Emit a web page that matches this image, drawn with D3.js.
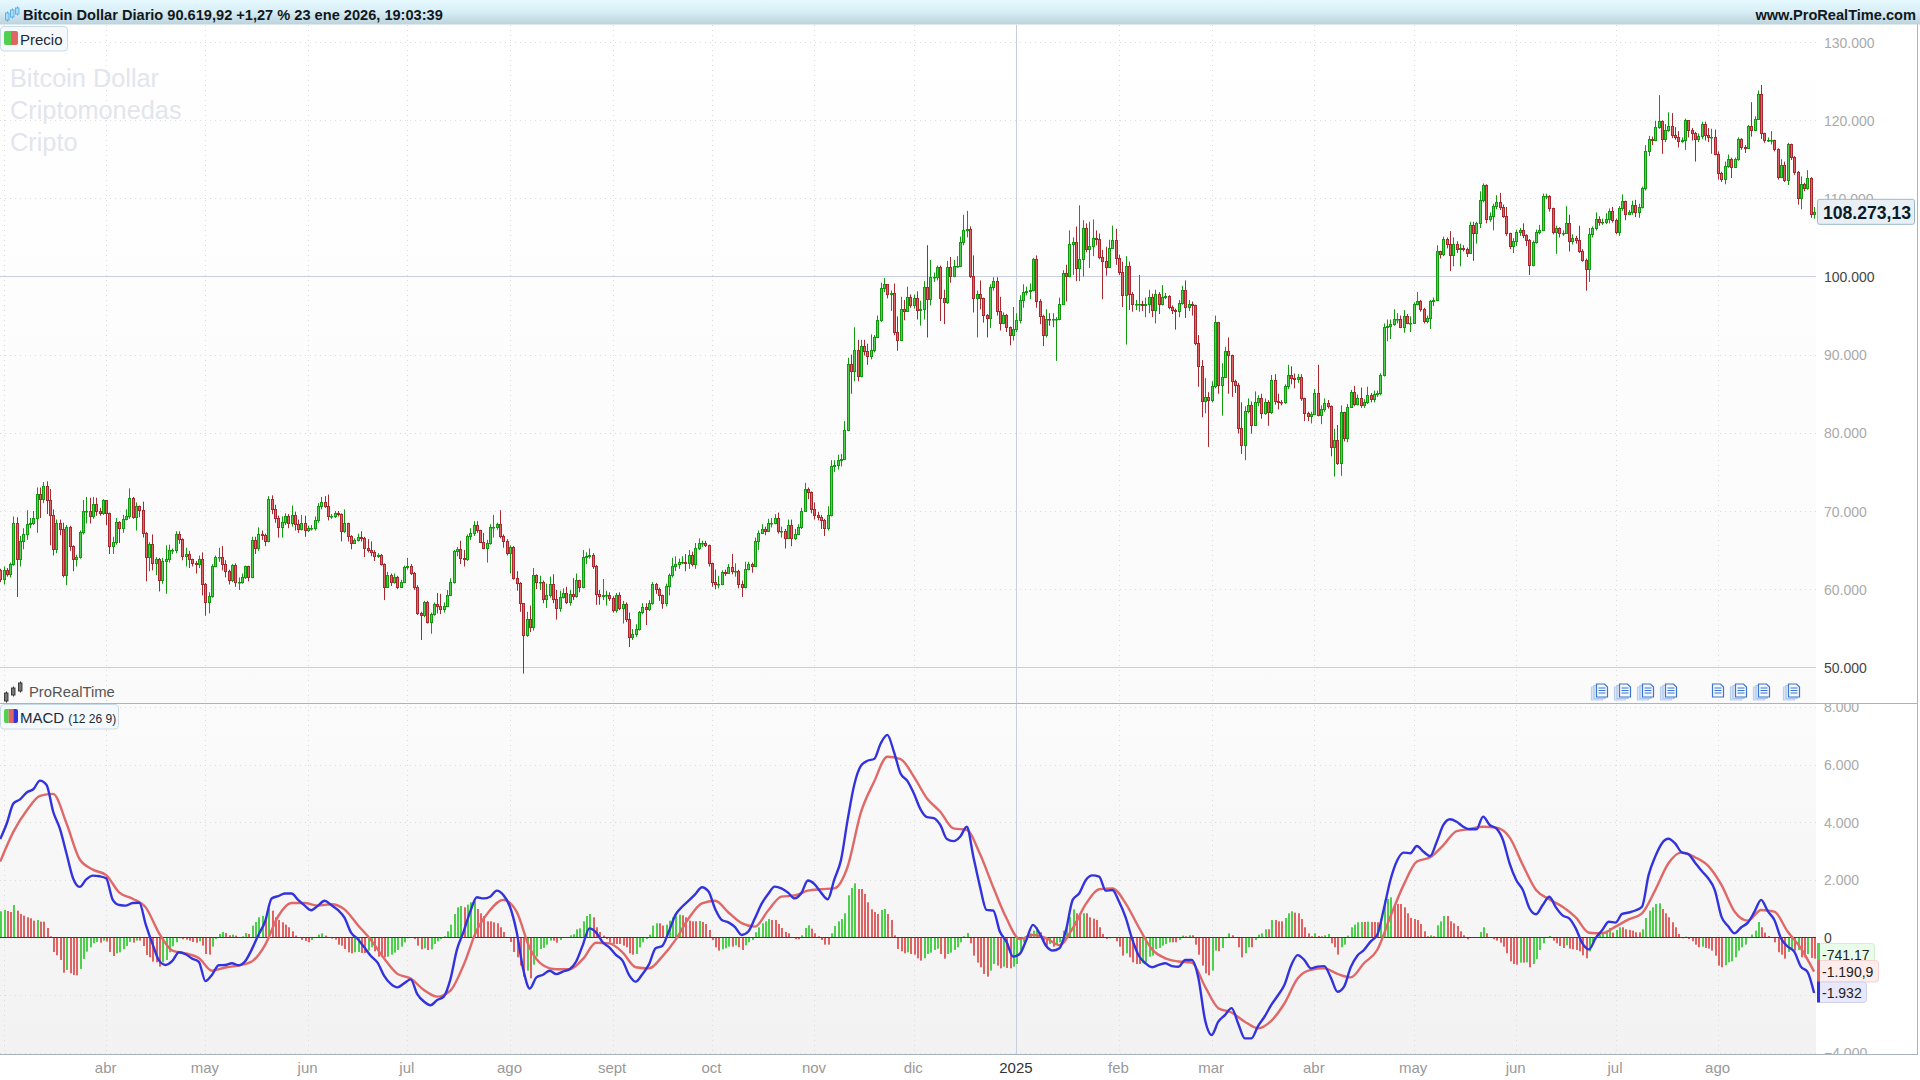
<!DOCTYPE html>
<html lang="es">
<head>
<meta charset="utf-8">
<title>Bitcoin Dollar Diario</title>
<script src="https://cdn.jsdelivr.net/npm/d3@7"></script>
<style>
html,body{margin:0;padding:0;background:#fff;overflow:hidden}
svg{display:block}
text{font-family:"Liberation Sans",Arial,sans-serif}
</style>
</head>
<body>
<svg id="chart" width="1920" height="1080"></svg>
<script>
// Daily closes, highs and lows in thousands of dollars; each session opens at the previous close.
const firstOpen = 62.4;
const closes = [
61.3,62.5,62.0,63.2,68.4,63.8,66.1,67.0,68.3,68.5,
69.1,72.2,71.5,73.2,71.4,69.5,65.1,68.5,67.7,61.8,
68.0,65.5,63.8,64.1,67.3,70.0,70.0,69.4,70.9,70.0,
69.7,71.4,69.7,65.5,66.0,68.6,67.8,69.0,69.3,71.7,
69.2,70.6,70.1,67.2,64.1,65.8,63.4,63.8,61.2,63.6,
63.8,65.0,65.0,67.0,66.4,64.3,64.5,63.8,63.4,63.2,
63.8,60.6,58.3,59.1,63.0,64.1,64.1,63.2,62.3,61.2,
63.1,60.9,60.95,61.5,62.9,61.5,66.3,65.2,67.0,66.9,
66.2,71.5,70.3,69.1,67.9,68.6,69.4,68.5,69.5,68.3,
67.7,68.5,67.6,67.8,67.8,68.8,70.6,71.2,70.7,69.3,
69.3,69.7,69.6,67.4,68.4,66.8,65.9,66.3,66.7,66.5,
65.2,65.0,64.8,64.2,64.4,63.2,60.3,61.8,60.9,61.6,
60.3,60.9,62.8,63.0,62.1,60.3,57.0,56.7,58.4,55.8,
56.8,58.1,57.8,57.4,57.9,59.2,60.9,64.9,65.1,64.0,
63.9,66.8,67.2,68.2,67.6,66.0,65.3,65.9,67.9,67.9,
68.3,66.8,66.2,64.6,65.4,61.4,60.8,58.2,54.1,56.2,
55.1,61.8,60.9,60.9,58.7,59.3,60.6,58.7,57.6,59.0,
59.5,58.4,59.4,59.1,61.2,60.3,64.1,64.2,64.4,62.9,
59.4,59.1,59.3,59.3,58.9,57.3,59.3,57.6,58.1,56.2,
53.9,54.2,54.9,57.1,57.7,57.4,58.2,60.7,60.0,59.2,
58.2,60.4,61.8,63.0,63.2,63.5,63.5,63.3,64.4,63.2,
65.3,65.9,65.9,65.6,63.3,60.9,60.6,60.7,62.2,62.1,
62.8,62.3,62.3,60.6,60.3,62.6,63.2,62.9,66.2,67.2,
67.7,67.4,68.5,68.5,69.1,67.4,67.5,66.6,68.2,66.6,
67.1,68.0,70.0,72.8,72.4,70.2,69.5,69.2,68.8,67.8,
69.5,75.8,75.9,76.5,76.7,80.4,88.8,87.9,90.6,87.3,
91.1,90.5,89.8,90.6,92.3,94.4,98.5,99.0,97.7,97.9,
92.9,91.9,95.9,95.6,97.4,96.3,97.2,95.7,95.9,98.7,
97.1,99.9,99.9,101.2,97.3,96.7,101.2,100.0,101.4,101.4,
104.4,106.0,106.1,100.0,97.3,97.7,97.2,95.1,94.7,98.6,
99.4,95.6,94.1,95.1,93.5,92.5,93.3,94.4,97.0,98.0,
98.2,98.3,102.3,96.9,95.0,92.5,94.6,94.5,94.5,94.5,
96.5,100.5,100.0,104.1,104.4,101.1,102.2,106.2,103.5,103.9,
104.9,104.8,102.5,102.0,101.2,103.7,104.7,102.4,100.6,97.6,
101.4,97.8,96.5,96.5,96.5,96.4,96.5,97.4,95.7,97.8,
96.5,97.4,97.5,96.1,95.7,95.6,96.6,98.3,96.1,96.5,
96.3,91.5,88.6,84.1,84.6,84.2,86.0,94.2,86.1,87.2,
90.5,89.9,86.6,86.1,80.6,78.4,82.8,83.6,81.0,83.9,
84.4,82.5,84.0,82.6,86.8,84.1,84.0,83.9,86.0,87.4,
87.0,86.9,87.2,84.4,82.5,82.2,82.4,85.1,82.3,83.0,
83.8,83.4,78.2,79.1,76.1,82.6,79.4,83.3,85.2,83.7,
84.4,83.6,83.9,84.9,84.3,85.0,85.1,87.4,93.5,93.7,
93.9,94.6,94.6,93.6,95.0,94.1,94.1,96.5,96.9,95.9,
94.3,94.7,96.8,97.0,103.2,102.9,104.8,104.1,102.8,104.1,
103.5,103.7,103.5,103.0,106.6,105.6,106.8,109.8,111.7,107.3,
107.8,109.0,109.5,108.9,107.8,105.5,103.9,104.6,105.7,105.9,
105.3,104.7,101.5,104.4,105.7,105.9,110.3,110.3,108.7,105.7,
106.2,105.6,105.6,106.8,104.6,104.9,104.7,103.3,102.1,101.0,
105.4,106.2,107.4,107.0,107.0,107.3,108.4,107.2,105.7,108.8,
109.6,108.0,108.2,109.2,108.2,108.9,111.3,116.0,117.6,117.5,
119.1,119.9,117.6,118.7,119.2,118.1,117.9,117.3,117.4,120.0,
118.8,118.3,117.6,118.0,119.5,118.1,117.8,117.9,115.7,113.2,
112.5,114.1,115.0,114.0,115.0,117.6,116.6,116.4,119.3,118.7,
120.2,123.4,118.3,117.4,117.4,117.4,116.3,112.7,114.2,112.4,
116.9,115.3,113.4,110.1,111.8,111.3,112.6,108.0,108.27313];

const highs = [
62.6,62.9,62.7,63.4,69.3,69.2,66.8,67.8,70.1,69.1,
70.0,73.0,73.0,73.7,73.8,72.8,70.2,68.9,68.9,68.5,
68.2,68.1,65.6,64.4,67.5,71.4,71.8,71.7,71.8,71.7,
70.4,71.5,71.4,69.8,66.7,69.1,68.7,69.5,70.2,72.9,
71.8,71.1,70.7,71.2,67.3,66.0,67.0,64.1,64.0,64.0,
65.6,65.7,65.2,67.4,67.4,66.5,65.3,64.9,63.9,63.6,
64.3,64.7,60.8,59.6,63.2,64.3,65.3,65.5,63.7,62.5,
63.2,63.3,61.5,62.0,63.0,63.0,66.7,66.7,67.9,67.5,
67.1,71.9,72.0,70.8,69.4,69.3,69.7,69.6,70.7,69.9,
68.9,69.5,69.4,68.1,68.2,69.3,71.0,71.8,71.9,72.1,
69.6,70.0,70.0,69.7,70.2,68.5,66.9,66.5,67.1,67.4,
66.7,66.4,66.1,65.0,64.6,64.5,63.3,62.2,62.0,62.0,
61.7,61.2,63.0,64.0,63.2,62.2,60.5,57.1,58.5,58.5,
57.0,58.3,59.5,59.4,58.3,59.9,61.4,65.0,65.4,66.2,
65.0,67.0,67.8,68.7,68.7,67.6,67.2,66.3,68.3,69.5,
68.5,70.1,67.0,66.4,65.6,65.5,62.3,60.9,58.2,57.1,
57.9,62.7,61.9,61.7,61.1,60.7,61.6,61.9,59.9,59.8,
60.1,60.3,59.9,61.4,62.0,61.2,65.0,64.7,65.2,64.6,
63.1,59.9,61.3,59.8,59.6,59.1,59.5,59.6,58.5,58.3,
57.0,54.9,55.5,57.2,58.2,58.2,58.6,60.9,60.8,60.2,
59.3,60.7,62.0,64.0,64.2,63.9,64.2,64.5,65.0,64.8,
65.9,66.5,66.2,66.2,65.7,63.4,62.5,61.7,62.4,62.5,
63.2,64.5,63.3,62.5,61.1,63.5,63.5,63.4,66.6,67.5,
68.3,68.0,69.0,69.1,69.6,69.8,68.0,67.7,68.9,68.9,
67.7,68.3,70.4,73.6,73.0,72.5,71.1,69.9,69.5,69.0,
70.6,76.5,76.5,77.2,77.3,81.5,89.6,90.0,93.5,91.9,
91.9,91.9,91.4,92.6,92.5,95.0,99.2,99.8,99.0,98.2,
99.1,94.9,97.4,97.0,98.7,97.7,97.7,98.1,96.9,99.4,
104.0,102.1,100.5,101.4,101.4,98.3,102.0,102.5,102.1,102.6,
105.1,107.9,108.4,106.4,102.7,98.2,99.5,97.3,95.2,99.0,
99.9,99.9,97.4,95.4,95.2,93.6,96.1,95.3,97.6,99.0,
98.7,99.1,102.4,102.7,97.1,95.1,95.8,95.3,95.3,94.8,
97.3,100.8,101.5,105.9,105.0,106.4,109.1,107.2,106.8,107.0,
107.3,105.9,105.5,103.4,103.8,104.7,106.5,106.1,102.8,101.9,
102.6,101.9,98.0,97.0,100.2,96.9,97.3,98.3,97.8,98.3,
98.0,98.9,97.9,97.6,96.3,95.9,97.0,98.8,99.5,97.0,
96.8,96.4,92.5,89.3,87.0,85.2,86.6,95.0,94.2,88.9,
91.0,92.2,90.0,86.8,86.4,83.9,83.4,84.4,84.0,85.3,
84.8,85.0,84.4,84.2,87.4,87.5,85.0,84.2,86.2,88.7,
88.5,87.6,87.5,87.5,84.5,82.7,82.7,85.6,88.7,83.5,
84.4,84.2,83.5,80.5,81.0,83.5,82.7,83.7,85.5,86.0,
84.9,85.8,84.3,85.9,85.1,85.4,85.4,87.6,94.0,94.5,
94.5,95.8,95.3,95.0,95.7,95.2,94.9,96.7,98.0,97.0,
96.0,95.0,97.0,97.3,104.0,103.3,105.1,105.0,105.8,105.0,
104.5,104.2,104.0,103.7,107.0,107.0,107.0,110.9,111.9,111.8,
108.2,109.3,110.4,110.7,109.2,108.9,105.6,104.9,106.0,106.2,
106.8,105.4,104.8,104.6,106.0,106.6,110.6,110.6,110.4,108.8,
106.5,106.3,105.9,109.0,107.9,105.4,105.2,106.5,103.5,102.3,
106.2,106.4,108.2,107.7,107.4,108.1,108.7,108.9,107.4,109.0,
110.5,109.7,108.5,109.7,109.8,109.3,111.5,116.8,118.0,117.9,
119.9,123.2,120.0,119.5,121.0,120.9,119.1,118.6,117.8,120.2,
120.0,119.0,118.5,118.3,119.8,119.8,119.0,118.9,118.8,116.0,
113.4,114.7,115.6,115.2,115.2,117.8,117.7,116.8,119.4,122.3,
120.5,123.8,124.5,118.4,117.8,118.6,117.5,116.4,115.0,114.7,
117.1,117.0,115.4,113.5,112.8,112.0,113.6,112.7,108.9];

const lows = [
60.9,60.6,61.6,61.5,63.0,59.0,62.9,65.1,66.3,67.8,
68.2,67.2,69.1,71.0,69.6,65.6,64.3,64.6,66.9,61.5,
60.5,64.9,62.3,62.9,63.9,67.0,68.4,68.4,69.0,69.4,
69.4,69.5,68.2,64.5,64.5,65.7,65.9,67.2,68.8,69.0,
69.0,67.5,69.2,66.6,61.0,62.3,62.4,61.8,59.7,60.7,
59.4,63.4,64.5,64.6,65.8,63.7,62.9,62.7,62.9,62.0,
62.7,59.2,56.6,56.9,58.9,62.8,63.5,62.4,61.5,60.6,
60.9,60.3,59.9,60.7,61.3,61.0,61.4,64.5,64.9,66.3,
65.5,66.0,69.6,68.5,66.6,66.6,68.2,67.8,68.0,67.5,
67.2,67.5,66.7,67.3,67.5,67.5,68.5,70.2,70.4,68.8,
69.0,69.1,69.3,66.1,67.2,66.1,65.1,65.8,66.1,66.1,
64.1,64.7,64.2,63.6,64.0,63.0,58.6,60.2,60.4,60.7,
60.0,60.2,60.8,62.5,61.8,59.9,56.7,53.5,56.4,55.6,
54.3,56.6,56.9,56.8,57.0,57.7,59.2,60.7,64.2,63.2,
62.9,63.6,66.3,66.8,67.2,65.9,65.1,63.4,65.7,66.6,
67.6,66.5,65.3,64.3,62.0,61.2,59.8,57.1,49.2,53.9,
54.5,54.7,60.0,59.9,58.2,57.6,58.9,58.2,56.1,57.1,
58.8,58.1,57.9,58.6,58.9,59.6,60.1,63.2,63.9,62.6,
58.0,58.0,58.6,57.9,58.5,57.0,57.0,57.3,55.6,55.8,
52.6,53.5,53.9,54.7,56.8,55.4,57.2,58.0,59.4,58.5,
57.5,57.8,59.2,61.5,62.3,62.6,63.2,62.3,62.6,62.9,
62.6,65.0,65.4,65.4,62.9,60.3,60.0,60.1,60.5,61.7,
62.0,61.9,61.6,60.1,59.0,60.1,62.4,62.1,62.9,65.0,
67.1,66.9,67.3,67.9,68.3,67.1,66.6,65.2,66.4,65.5,
66.3,67.0,67.7,69.9,71.5,69.7,68.9,68.8,67.7,66.8,
67.5,69.3,75.0,75.3,75.7,76.6,80.2,85.0,86.6,86.6,
87.1,89.9,88.7,89.4,90.3,92.1,94.2,98.0,97.2,95.6,
92.5,90.5,91.8,94.4,95.5,96.0,95.9,94.5,93.7,94.5,
92.2,96.3,99.3,99.5,94.3,93.9,96.5,99.2,99.9,101.1,
101.2,104.0,105.0,99.8,95.4,92.2,95.8,94.1,92.2,93.4,
98.2,95.0,93.1,93.9,92.9,91.2,91.8,92.9,94.0,96.0,
97.6,97.1,98.1,96.0,93.9,91.1,92.2,93.7,93.5,89.2,
94.4,96.4,96.8,99.9,100.2,99.4,99.4,100.0,103.1,101.1,
102.6,104.0,102.2,97.1,100.1,101.1,103.6,101.5,100.2,96.1,
91.3,95.7,95.5,95.7,95.5,95.6,94.8,95.3,94.8,94.0,
95.2,96.3,97.1,95.8,95.2,93.2,94.8,96.4,94.7,95.6,
95.0,91.2,85.9,82.0,82.5,78.2,83.9,85.7,85.0,82.2,
87.0,85.0,84.6,85.1,79.9,77.3,76.5,82.5,79.9,80.9,
83.4,81.8,82.3,80.9,82.4,83.6,83.0,83.5,83.7,85.6,
86.2,85.7,86.4,84.1,81.5,81.5,81.2,82.3,82.1,81.1,
82.7,83.1,77.0,74.4,75.9,74.5,78.9,78.8,83.2,83.4,
83.5,83.2,83.2,83.7,83.9,83.9,84.6,84.8,87.2,91.7,
92.0,93.7,94.0,93.4,92.8,93.9,92.9,94.0,96.3,95.5,
94.0,94.0,93.3,96.2,96.9,102.3,102.6,103.6,100.7,101.3,
103.0,101.3,103.2,102.5,102.9,102.0,104.2,106.2,109.5,106.8,
107.0,105.9,108.6,108.5,107.5,105.2,103.5,103.0,103.9,105.2,
104.9,103.9,100.2,101.3,104.2,105.4,105.8,109.9,108.3,105.4,
102.9,105.0,105.2,105.5,103.2,104.1,104.2,103.0,101.9,98.2,
99.3,105.0,105.9,106.5,106.6,106.7,106.8,106.9,105.4,105.2,
108.4,107.2,107.9,107.9,107.6,107.5,108.7,111.0,115.4,116.8,
117.3,118.9,115.7,117.2,118.5,117.7,117.5,116.5,117.1,116.2,
117.8,117.4,114.7,117.2,117.6,117.4,117.2,115.7,115.5,112.4,
112.1,111.8,113.9,112.6,113.9,114.8,116.2,115.8,116.3,117.9,
118.6,120.1,117.6,117.1,117.2,116.9,116.0,112.4,112.6,112.1,
111.7,114.9,113.0,109.2,108.6,110.9,111.1,107.5,107.4];

// MACD histogram, one value per session.
const macdHist = [
902,949,914,879,1122,926,810,752,694,659,
579,602,544,544,324,35,-509,-625,-787,-1226,
-1134,-1250,-1307,-1319,-1099,-752,-498,-347,-208,-162,
-185,-116,-150,-509,-648,-555,-521,-417,-301,-162,
-185,-116,-116,-301,-613,-694,-845,-868,-1018,-868,
-787,-521,-312,-174,-35,-69,-81,-116,-162,-185,
-139,-289,-579,-602,-324,-58,116,185,150,69,
93,58,0,35,150,116,405,532,694,740,
694,1018,926,694,602,521,440,347,208,58,
0,-93,-127,-174,-93,0,93,139,58,0,
-46,-81,-255,-289,-405,-521,-555,-521,-509,-544,
-544,-463,-347,-486,-671,-683,-694,-671,-602,-532,
-440,-324,-174,-35,0,-58,-289,-417,-382,-440,
-417,-231,-139,-58,35,208,440,810,1041,1088,
1041,1134,1215,1250,983,833,740,555,555,521,
486,347,185,-23,-162,-509,-694,-983,-1365,-1157,
-1423,-949,-671,-405,-370,-255,-116,-116,-185,-93,
0,0,69,104,278,312,555,740,810,694,
347,185,58,-58,-174,-231,-231,-231,-289,-347,
-555,-602,-579,-347,-174,-58,93,405,486,486,
405,440,579,694,764,787,764,694,579,555,
555,567,532,463,255,-93,-347,-463,-417,-382,
-324,-324,-278,-347,-440,-278,-174,-93,174,347,
486,555,636,602,602,463,324,185,139,0,
-69,-69,69,324,417,301,139,35,-93,-255,
-255,139,393,555,636,833,1458,1712,1874,1678,
1678,1504,1215,972,879,810,949,983,810,602,
69,-405,-486,-555,-521,-579,-602,-729,-810,-729,
-579,-532,-440,-393,-579,-740,-579,-532,-440,-347,
-174,35,150,-208,-636,-879,-1041,-1273,-1365,-1157,
-926,-983,-1076,-1018,-1064,-1076,-1018,-926,-463,-174,
58,139,231,347,174,-116,-289,-231,-324,-255,
-174,231,347,717,972,833,764,833,833,694,
648,602,347,116,-58,-35,-12,-139,-324,-636,
-555,-694,-868,-926,-926,-902,-856,-671,-636,-405,
-370,-289,-231,-174,-174,-174,-93,58,35,69,
69,-255,-602,-983,-1250,-1319,-1157,-463,-486,-370,
-35,139,69,0,-347,-694,-555,-347,-347,-93,
93,139,278,278,602,602,555,555,671,833,
902,856,833,636,347,139,35,139,46,35,
69,116,-208,-347,-602,-347,-255,58,347,440,
521,532,532,544,532,532,521,636,1273,1330,
1388,1157,1157,1157,1041,833,671,636,602,463,
208,35,69,35,417,555,740,740,555,486,
393,208,69,-69,-12,-23,0,185,347,139,
0,-69,-116,-185,-324,-555,-833,-926,-949,-879,
-879,-868,-1041,-926,-752,-440,-208,-23,46,-116,
-208,-301,-370,-278,-393,-417,-440,-486,-625,-729,
-486,-174,-23,93,139,231,324,162,255,347,
347,278,255,231,174,174,278,671,926,1041,
1157,1180,983,833,694,521,347,116,-35,23,
-58,-139,-255,-347,-324,-370,-393,-463,-636,-983,
-1041,-972,-868,-833,-694,-463,-347,-255,0,93,
231,532,347,162,46,-23,-174,-521,-602,-740,
-509,-393,-463,-440,-694,-694,-579,-717,-741.17];

// MACD line, every second session.
const macdLineStep = 2;
const macdLine = [
3410,3960,4650,4790,5030,5140,5440,5290,4360,3780,
2920,2050,1750,2010,2140,2120,2050,1300,1120,1100,
1190,1200,430,-230,-810,-960,-820,-520,-590,-740,
-850,-1520,-1300,-970,-960,-900,-970,-830,-420,80,
540,1350,1430,1520,1520,1300,1100,940,1100,1270,
1120,950,680,160,-60,-350,-650,-880,-1340,-1620,
-1740,-1600,-1460,-1970,-2230,-2360,-2180,-2060,-1460,-420,
200,890,1390,1350,1410,1620,1470,1060,200,-1110,
-1780,-1390,-1300,-1160,-1280,-1190,-1110,-840,-270,310,
170,-170,-350,-610,-810,-1310,-1540,-1280,-940,-380,
-300,200,780,1060,1270,1500,1740,1590,980,600,
520,350,80,200,660,1160,1500,1760,1700,1550,
1350,1530,1970,1850,1550,1320,2010,2680,4070,5290,
5950,6130,6190,6730,7030,6440,5690,5440,5000,4450,
4170,4140,3900,3410,3340,3490,3840,2800,1760,950,
930,200,-150,-670,-580,-90,430,140,-300,-460,
-380,250,1300,1530,1990,2150,2110,1620,1640,1240,
690,-70,-640,-900,-1040,-960,-900,-1000,-1020,-790,
-790,-1420,-2870,-3390,-2930,-2700,-2460,-2990,-3510,-3510,
-3080,-2750,-2350,-2020,-1650,-980,-620,-790,-1080,-1020,
-1000,-1400,-1890,-1710,-1040,-640,-440,-150,80,980,
1990,2660,2940,2920,3170,2970,2820,3320,3900,4100,
4010,3840,3750,3750,4190,3900,3780,3380,2570,1990,
1640,1010,800,1120,1410,1040,760,660,310,-210,
-420,-30,250,540,510,810,860,930,1060,2160,
2800,3260,3420,3260,2950,2890,2600,2310,2050,1640,
720,390,140,350,510,890,1300,910,600,-30,
-320,-500,-1020,-1200,-1932];

// Signal line, every fourth session.
const signalLineStep = 4;
const signalLine = [
2630,3670,4400,4910,4980,3960,2710,2350,2160,1550,
1340,1030,140,-460,-560,-720,-1160,-1050,-980,-840,
-270,740,1190,1190,1100,1150,970,430,-90,-740,
-1270,-1430,-1830,-2060,-1850,-960,250,950,1300,890,
-380,-970,-1110,-1110,-760,-190,-210,-520,-1040,-1080,
-670,-90,660,1180,1270,860,490,370,930,1410,
1450,1620,1670,1700,2450,4330,5400,6270,6190,5580,
4820,4360,3780,3730,2890,1740,660,-60,80,-30,
-270,310,1160,1670,1700,1180,340,-420,-730,-840,
-880,-1710,-2460,-2610,-2930,-3160,-2900,-2290,-1420,-1130,
-1080,-1270,-1390,-900,-440,720,1820,2630,2780,3200,
3690,3760,3840,3810,3470,2510,1640,1320,1060,690,
160,140,370,620,830,1640,2570,2950,2780,2480,
1820,890,580,950,890,200,-380,-1190.9];

const priceTicks = [130,120,110,100,90,80,70,60,50];
const macdTicks = [8000,6000,4000,2000,0,-2000,-4000];
const monthLabels = ["abr","may","jun","jul","ago","sept","oct","nov","dic","2025","feb","mar","abr","may","jun","jul","ago"];
const newsBars = [483,490,497,504,518,525,532,541];
const singleNewsBar = 518;
const watermark = ["Bitcoin Dollar","Criptomonedas","Cripto"];
const titleText = "Bitcoin Dollar Diario 90.619,92 +1,27 % 23 ene 2026, 19:03:39";

const firstDay = new Date(Date.UTC(2024,1,29));
const dayOf = i => d3.utcDay.offset(firstDay, i);
const candles = closes.map((c,i)=>({i, date:dayOf(i), open:i?closes[i-1]:firstOpen, close:c, high:highs[i], low:lows[i]}));

const plotRight = 1816;
const x = d3.scaleUtc().domain([firstDay, dayOf(closes.length-1)]).range([0.23, 1814.1]);
const yPrice = d3.scaleLinear().domain([50,130]).range([667.3,42]);
const yMacd = d3.scaleLinear().domain([-4000,8000]).range([1052.5,706.9]);
const thousands = d3.formatLocale({decimal:",",thousands:".",grouping:[3],currency:["","€"]}).format(",");

const svg = d3.select("#chart");
const defs = svg.append("defs");
function gradient(id, stops){
  const g = defs.append("linearGradient").attr("id",id).attr("x1",0).attr("y1",0).attr("x2",0).attr("y2",1);
  stops.forEach(([o,c])=>g.append("stop").attr("offset",o).attr("stop-color",c));
}
gradient("titleFill",[[0,"#e6f9ff"],[0.45,"#d9eff6"],[1,"#bcd3dd"]]);
gradient("pricePane",[[0,"#ffffff"],[1,"#fafafa"]]);
gradient("macdPane",[[0,"#fbfbfb"],[1,"#f2f2f2"]]);
defs.append("clipPath").attr("id","macdClip").append("rect").attr("x",0).attr("y",704).attr("width",plotRight+1).attr("height",350);
defs.append("clipPath").attr("id","macdAxisClip").append("rect").attr("x",-7).attr("y",704).attr("width",103).attr("height",350);

svg.append("rect").attr("width",1920).attr("height",1080).attr("fill","#fff");
svg.append("rect").attr("x",0).attr("y",24).attr("width",plotRight).attr("height",679).attr("fill","url(#pricePane)");
svg.append("rect").attr("x",0).attr("y",704).attr("width",plotRight).attr("height",350).attr("fill","url(#macdPane)");

// Dotted grid for months and price/MACD levels
const gridMonths = d3.utcMonths(new Date(Date.UTC(2024,2,1)), new Date(Date.UTC(2025,7,2)));
const yearStart = new Date(Date.UTC(2025,0,1));
const grid = svg.append("g").attr("fill","none").attr("stroke","#dcdcdc").attr("stroke-dasharray","1 4");
grid.selectAll(".v").data(gridMonths.filter(d=>+d!==+yearStart)).join("line")
  .attr("x1",d=>Math.round(x(d))+0.5).attr("x2",d=>Math.round(x(d))+0.5).attr("y1",25).attr("y2",1054);
grid.selectAll(".hp").data(priceTicks.filter(d=>d!==100&&d!==50)).join("line")
  .attr("x1",0).attr("x2",plotRight).attr("y1",d=>Math.round(yPrice(d))+0.5).attr("y2",d=>Math.round(yPrice(d))+0.5);
grid.selectAll(".hm").data(macdTicks.filter(d=>d!==0)).join("line")
  .attr("x1",0).attr("x2",plotRight).attr("y1",d=>Math.round(yMacd(d))+0.5).attr("y2",d=>Math.round(yMacd(d))+0.5);

// Solid reference levels and the year marker
const refs = svg.append("g").attr("stroke","#c8cde0").attr("stroke-width",1);
refs.selectAll("line").data([100,50]).join("line")
  .attr("x1",0).attr("x2",plotRight).attr("y1",d=>Math.round(yPrice(d))+0.5).attr("y2",d=>Math.round(yPrice(d))+0.5);
refs.append("line").attr("x1",Math.round(x(yearStart))+0.5).attr("x2",Math.round(x(yearStart))+0.5).attr("y1",25).attr("y2",1054);

// Background watermark
svg.append("g").attr("fill","#e2e5ec").attr("font-size",25.3).selectAll("text").data(watermark).join("text")
  .attr("x",10).attr("y",(d,i)=>87+i*32).text(d=>d);

// Candlesticks
const upStroke="#11990f", upFill="#52cf52", downStroke="#a8282f", downFill="#e06464";
const bars = svg.append("g").selectAll("g").data(candles).join("g");
const px = d => Math.round(x(d.date));
bars.append("rect").attr("x",d=>px(d)).attr("width",1)
  .attr("y",d=>yPrice(d.high)).attr("height",d=>yPrice(d.low)-yPrice(d.high))
  .attr("fill",d=>d.close>=d.open?upStroke:downStroke);
bars.append("rect")
  .attr("x",d=>px(d)-0.5).attr("width",2)
  .attr("y",d=>Math.round(yPrice(Math.max(d.open,d.close)))+0.5)
  .attr("height",d=>Math.max(0.5,Math.round(yPrice(Math.min(d.open,d.close)))-Math.round(yPrice(Math.max(d.open,d.close)))))
  .attr("fill",d=>d.close>=d.open?upFill:downFill)
  .attr("stroke",d=>d.close>=d.open?upStroke:downStroke);

// MACD pane: histogram, zero line, signal and MACD lines
const macdG = svg.append("g").attr("clip-path","url(#macdClip)");
macdG.append("g").selectAll("rect").data(macdHist).join("rect")
  .attr("x",(d,i)=>Math.round(x(dayOf(i)))).attr("width",2)
  .attr("y",d=>Math.min(yMacd(d),yMacd(0))).attr("height",d=>Math.abs(yMacd(d)-yMacd(0)))
  .attr("fill",(d,i)=>(i===0||d>macdHist[i-1])?"#4cd04c":"#e06262");
macdG.append("line").attr("x1",0).attr("x2",plotRight).attr("y1",Math.round(yMacd(0))+0.5).attr("y2",Math.round(yMacd(0))+0.5)
  .attr("stroke","#2c2cb8").attr("stroke-width",1);
const lineFor = step => d3.line().x((d,k)=>x(dayOf(k*step))).y(d=>yMacd(d)).curve(d3.curveMonotoneX);
macdG.append("path").attr("d",lineFor(signalLineStep)(signalLine)).attr("fill","none").attr("stroke","#e06868").attr("stroke-width",2.4);
macdG.append("path").attr("d",lineFor(macdLineStep)(macdLine)).attr("fill","none").attr("stroke","#3333dd").attr("stroke-width",2.4);

// Right-hand axes
const priceAxis = svg.append("g").attr("transform","translate(1824,0)")
  .call(d3.axisRight(yPrice).tickValues(priceTicks).tickSize(0).tickPadding(0).tickFormat(d=>thousands(d*1000)));
const macdAxis = svg.append("g").attr("transform","translate(1824,0)").attr("clip-path","url(#macdAxisClip)");
macdAxis.call(d3.axisRight(yMacd).tickValues(macdTicks).tickSize(0).tickPadding(0).tickFormat(d=>thousands(d)));
[priceAxis,macdAxis].forEach(a=>{
  a.select(".domain").remove();
  a.selectAll("text").attr("font-family","Liberation Sans, Arial, sans-serif").attr("font-size",14).attr("dy","0.36em")
    .attr("fill","#aaaaaa");
});
priceAxis.selectAll("text").filter(d=>d===100||d===50).attr("fill","#444");
macdAxis.selectAll("text").filter(d=>d===0).attr("fill","#444");

// Month axis
const timeAxis = svg.append("g").attr("transform","translate(-1,1062)")
  .call(d3.axisBottom(x).tickValues(gridMonths.slice(1)).tickSize(0).tickPadding(0).tickFormat((d,i)=>monthLabels[i]));
timeAxis.select(".domain").remove();
timeAxis.selectAll("text").attr("font-family","Liberation Sans, Arial, sans-serif").attr("font-size",15)
  .attr("dy","0.71em").attr("fill",d=>+d===+yearStart?"#333":"#999");

// Pane frames
const frames = svg.append("g").attr("stroke","#a9b4bf").attr("fill","none");
frames.append("line").attr("x1",0).attr("x2",1917).attr("y1",703.5).attr("y2",703.5);
frames.append("line").attr("x1",0).attr("x2",1917).attr("y1",1054.5).attr("y2",1054.5);
frames.append("line").attr("x1",1917.5).attr("x2",1917.5).attr("y1",24).attr("y2",1055);

// Title bar
svg.append("rect").attr("width",1920).attr("height",24.5).attr("fill","url(#titleFill)");
function candleIcon(g, items, body, fill){
  items.forEach(([cx,top,bottom])=>{
    g.append("rect").attr("x",cx).attr("y",top-1.5).attr("width",1).attr("height",bottom-top+3).attr("fill",body);
    g.append("rect").attr("x",cx-1.5).attr("y",top).attr("width",3.5).attr("height",bottom-top).attr("fill",fill).attr("stroke",body).attr("stroke-width",0.9);
  });
}
candleIcon(svg.append("g"),[[7,13,20],[12,10,17],[17,8,14]],"#55aee6","#a9dcf6");
svg.append("text").attr("x",23).attr("y",20).attr("font-size",14.6).attr("font-weight","bold").attr("fill","#101820").text(titleText);
svg.append("text").attr("x",1916).attr("y",20).attr("text-anchor","end").attr("font-size",14.6).attr("font-weight","bold").attr("fill","#101820").text("www.ProRealTime.com");

// Legend chips
function chip(x0,y0,w,h,colors,label,extra){
  const g = svg.append("g");
  g.append("rect").attr("x",x0+0.5).attr("y",y0+0.5).attr("width",w).attr("height",h).attr("rx",3.5)
    .attr("fill","#f5f9fc").attr("stroke","#c8dbe6");
  const clipId = "swatch"+label;
  defs.append("clipPath").attr("id",clipId).append("rect").attr("x",x0+4).attr("y",y0+5).attr("width",14).attr("height",14).attr("rx",2);
  const sw = 14/colors.length;
  const swatch = g.append("g").attr("clip-path",`url(#${clipId})`);
  colors.forEach((c,k)=>swatch.append("rect").attr("x",x0+4+k*sw).attr("y",y0+5).attr("width",sw).attr("height",14).attr("fill",c));
  const t = g.append("text").attr("x",x0+20).attr("y",y0+19).attr("font-size",15).attr("fill","#1a2a3a").text(label);
  if(extra) t.append("tspan").attr("font-size",12).attr("dx",4).text(extra);
}
chip(0,26,67,24.5,["#4fd04f","#e06666"],"Precio");
chip(0,704,118,24.5,["#4fd04f","#e06666","#3333dd"],"MACD","(12 26 9)");

// Footer of the price pane
candleIcon(svg.append("g"),[[6,693,701],[13,688,695],[20,683,691]],"#333","#777");
svg.append("text").attr("x",29).attr("y",697).attr("font-size",14.8).attr("fill","#555").text("ProRealTime");

// Stacked document markers over news sessions
const newsG = svg.append("g");
function docShape(g,dx,dy,fill,stroke,opacity){
  g.append("path").attr("d",`M${dx},${dy}h8l3,3v10h-11z`).attr("fill",fill).attr("stroke",stroke).attr("stroke-width",1.2).attr("opacity",opacity);
}
newsBars.forEach(b=>{
  const cx = Math.round(x(dayOf(b)));
  const g = newsG.append("g").attr("transform",`translate(${cx},684)`);
  if(b!==singleNewsBar){
    docShape(g,-7.5,3,"#dbe7f7","#bcd0ee",1);
    docShape(g,-5,1.5,"#e6eef9","#a9c3ea",1);
  }
  docShape(g,-2.5,0,"#f4f8fe","#3a74cf",1);
  [4,6.5,9].forEach(ly=>g.append("line").attr("x1",-0.5).attr("x2",6.5).attr("y1",ly).attr("y2",ly).attr("stroke","#3a74cf").attr("stroke-width",1));
});

// Last-value tags
const lastClose = closes[closes.length-1];
const priceTagY = yPrice(lastClose);
svg.append("rect").attr("x",1817.5).attr("y",priceTagY-12.5).attr("width",97).attr("height",25).attr("rx",2)
  .attr("fill","#e8f0f5").attr("stroke","#9bb8c8");
svg.append("text").attr("x",1823).attr("y",priceTagY+7.5).attr("font-size",17.6).attr("font-weight","bold").attr("fill","#0c1a28")
  .text(d3.format(",.2f")(lastClose*1000).replace(/[,.]/g,m=>m===","?".":","));

const macdTags = [
  {label:"-741.17", top:943, h:20, w:57, fill:"#e9fbe9", border:"#d3efd3", mark:"#4cd04c", base:960},
  {label:"-1.190,9", top:960, h:21.5, w:61, fill:"#fdecec", border:"#f5d3d3", mark:"#e06262", base:976.7},
  {label:"-1.932", top:981.5, h:20.5, w:49, fill:"#e8e8fb", border:"#cfcff2", mark:"#3333dd", base:997.7}
];
macdTags.forEach(t=>{
  const g = svg.append("g");
  g.append("rect").attr("x",1817.5).attr("y",t.top+0.5).attr("width",t.w).attr("height",t.h).attr("rx",3).attr("fill",t.fill).attr("stroke",t.border);
  g.append("text").attr("x",1822).attr("y",t.base).attr("font-size",14).attr("fill","#222").text(t.label);
  g.append("rect").attr("x",1817).attr("y",t.top).attr("width",3).attr("height",t.h+0.5).attr("fill",t.mark);
});
</script>
</body>
</html>
